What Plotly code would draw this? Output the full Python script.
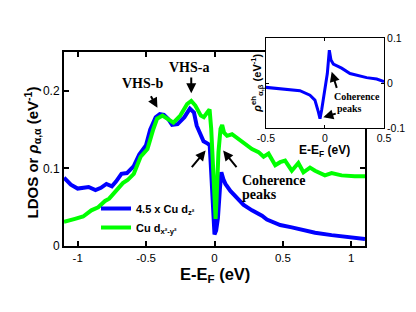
import plotly.graph_objects as go

# ---- main panel data ----
blue_E = [-1.10, -1.05, -1.00, -0.95, -0.92, -0.87, -0.83, -0.79, -0.75, -0.72, -0.68, -0.64,
          -0.59, -0.55, -0.52, -0.50, -0.47, -0.43, -0.40, -0.37, -0.34, -0.31, -0.27, -0.22,
          -0.18, -0.15, -0.13, -0.10, -0.08, -0.05, -0.035, -0.024, -0.012, 0.0, 0.012, 0.025,
          0.04, 0.05, 0.065, 0.08, 0.116, 0.165, 0.213, 0.274, 0.347, 0.383, 0.42, 0.48,
          0.565, 0.638, 0.735, 0.856, 0.977, 1.10]
blue_V = [0.088, 0.079, 0.074, 0.075, 0.076, 0.072, 0.075, 0.080, 0.077, 0.083, 0.093, 0.094,
          0.103, 0.118, 0.126, 0.130, 0.150, 0.166, 0.170, 0.169, 0.164, 0.156, 0.157, 0.166,
          0.177, 0.172, 0.155, 0.144, 0.135, 0.132, 0.130, 0.095, 0.045, 0.015, 0.020, 0.036,
          0.075, 0.095, 0.086, 0.080, 0.071, 0.061, 0.053, 0.046, 0.039, 0.034, 0.031, 0.027,
          0.024, 0.021, 0.017, 0.014, 0.012, 0.009]

green_E = [-1.10, -1.05, -1.02, -0.96, -0.90, -0.85, -0.80, -0.77, -0.71, -0.67, -0.635, -0.59,
           -0.54, -0.49, -0.45, -0.42, -0.38, -0.34, -0.30, -0.25, -0.20, -0.17, -0.14, -0.10,
           -0.078, -0.053, -0.036, -0.024, -0.01, 0.002, 0.008, 0.015, 0.029, 0.044, 0.056,
           0.07, 0.092, 0.128, 0.177, 0.225, 0.274, 0.322, 0.359, 0.395, 0.444, 0.48, 0.516,
           0.565, 0.613, 0.65, 0.698, 0.735, 0.807, 0.856, 0.929, 1.025, 1.10]
green_V = [0.031, 0.034, 0.035, 0.038, 0.046, 0.050, 0.058, 0.061, 0.072, 0.081, 0.085, 0.093,
           0.115, 0.125, 0.149, 0.164, 0.168, 0.164, 0.159, 0.168, 0.183, 0.187, 0.181, 0.168,
           0.166, 0.172, 0.176, 0.151, 0.100, 0.045, 0.035, 0.060, 0.121, 0.151, 0.156,
           0.146, 0.142, 0.144, 0.138, 0.132, 0.125, 0.121, 0.115, 0.119, 0.104, 0.108, 0.110,
           0.097, 0.107, 0.095, 0.101, 0.097, 0.091, 0.094, 0.091, 0.090, 0.090]

# ---- inset data ----
inset_E = [-0.5, -0.353, -0.212, -0.127, -0.085, -0.056, -0.042, -0.028, 0.0, 0.02, 0.037,
           0.051, 0.071, 0.141, 0.212, 0.353, 0.438, 0.5]
inset_V = [-0.0096, -0.014, -0.017, -0.027, -0.038, -0.064, -0.079, -0.060, -0.016, 0.021, 0.073,
           0.051, 0.042, 0.033, 0.021, 0.012, 0.009, 0.003]

main_xticks = [-1, -0.5, 0, 0.5, 1]
main_yticks = [0, 0.1, 0.2]
inset_xticks = [-0.5, 0, 0.5]
inset_yticks = [-0.1, 0, 0.1]

BLUE = "#0000ff"
GREEN = "#00ff00"
SANS = "Liberation Sans, Arial, sans-serif"
SERIF = "Liberation Serif, Times New Roman, serif"

fig = go.Figure()
fig.add_trace(go.Scatter(x=blue_E, y=blue_V, mode="lines", line=dict(color=BLUE, width=4),
                         name="<b>4.5 x Cu d<sub>z²</sub></b>", xaxis="x", yaxis="y"))
fig.add_trace(go.Scatter(x=green_E, y=green_V, mode="lines", line=dict(color=GREEN, width=4),
                         name="<b>Cu d<sub>x²-y²</sub></b>", xaxis="x", yaxis="y"))
fig.add_trace(go.Scatter(x=inset_E, y=inset_V, mode="lines", line=dict(color=BLUE, width=3),
                         showlegend=False, xaxis="x2", yaxis="y2"))

axcommon = dict(showgrid=False, zeroline=False, showline=True, linecolor="black",
                ticks="inside", tickcolor="black", automargin=False)

fig.update_layout(
    width=408, height=304,
    margin=dict(l=56, r=32, t=30, b=66),
    paper_bgcolor="white", plot_bgcolor="white",
    font=dict(family=SANS, color="black"),
    xaxis=dict(domain=[0, 0.9406], range=[-1.1, 1.1], tickvals=main_xticks,
               ticktext=["-1", "-0.5", "0", "0.5", "1"], linewidth=2, ticklen=5, tickwidth=1.5,
               mirror="ticks", tickfont=dict(size=11.5, family=SANS),
               **axcommon),
    yaxis=dict(domain=[0, 0.9327], range=[0, 0.25], tickvals=main_yticks,
               ticktext=["0", "0.1", "0.2"], linewidth=2, ticklen=5, tickwidth=1.5,
               mirror="ticks", tickfont=dict(size=12, family=SANS),
               **axcommon),
    xaxis2=dict(domain=[0.631, 1.0], range=[-0.5, 0.5], tickvals=inset_xticks,
                ticktext=["-0.5", "0", "0.5"], anchor="y2", linewidth=1, ticklen=3,
                mirror="ticks", tickfont=dict(size=10.5, family=SANS),
                **axcommon),
    yaxis2=dict(domain=[0.567, 1.0], range=[-0.1, 0.1], tickvals=inset_yticks,
                ticktext=["-0.1", "0", "0.1"], anchor="x2", side="right", linewidth=1, ticklen=3,
                mirror="ticks", tickfont=dict(size=10.5, family=SANS),
                **axcommon),
    legend=dict(x=0.10, y=0.25, xanchor="left", yanchor="top", bgcolor="rgba(0,0,0,0)",
                font=dict(size=11, family=SANS), itemwidth=30, tracegroupgap=0),
    showlegend=True,
)

def arrow(x, y, ax, ay, xr="x", yr="y"):
    fig.add_annotation(x=x, y=y, ax=ax, ay=ay, xref=xr, yref=yr, axref=xr, ayref=yr,
                       showarrow=True, arrowhead=2, arrowsize=1, arrowwidth=2,
                       arrowcolor="black", text="")

def label(x, y, text, size, xr="x", yr="y", xanchor="center"):
    fig.add_annotation(x=x, y=y, xref=xr, yref=yr, text="<b>" + text + "</b>", showarrow=False,
                       xanchor=xanchor, yanchor="middle",
                       font=dict(family=SERIF, size=size, color="black"))

def title(x, y, text, size, angle=0):
    fig.add_annotation(x=x, y=y, xref="paper", yref="paper", showarrow=False, textangle=angle,
                       xanchor="center", yanchor="middle", text="<b>" + text + "</b>",
                       font=dict(size=size, family=SANS, color="black"))

# main axis titles
title(0.472, -0.14, "E-E<sub>F</sub> (eV)", 16.5)
title(-0.10, 0.45, "LDOS or <i>ρ</i><sub>α,α</sub> (eV<sup>-1</sup>)", 15, angle=-90)

# main panel annotations
label(-0.525, 0.209, "VHS-b", 14)
arrow(-0.417, 0.178, -0.471, 0.195)
label(-0.187, 0.230, "VHS-a", 14)
arrow(-0.17, 0.197, -0.17, 0.219)
arrow(-0.065, 0.123, -0.175, 0.0996)
arrow(0.063, 0.123, 0.17, 0.0996)
label(0.185, 0.0846, "Coherence", 14, xanchor="left")
label(0.185, 0.0666, "peaks", 14, xanchor="left")

# inset annotations
label(0.269, -0.029, "Coherence", 10, xr="x2", yr="y2")
label(0.212, -0.056, "peaks", 10, xr="x2", yr="y2")
arrow(0.057, 0.025, 0.104, -0.014, xr="x2", yr="y2")
arrow(-0.014, -0.076, 0.104, -0.067, xr="x2", yr="y2")

# inset axis titles
title(0.603, 0.785, "<i>ρ</i><sup>eh</sup><sub>α,β</sub> (eV<sup>-1</sup>)", 11, angle=-90)
title(0.8156, 0.458, "E-E<sub>F</sub> (eV)", 12)

fig.write_html("out.html")
